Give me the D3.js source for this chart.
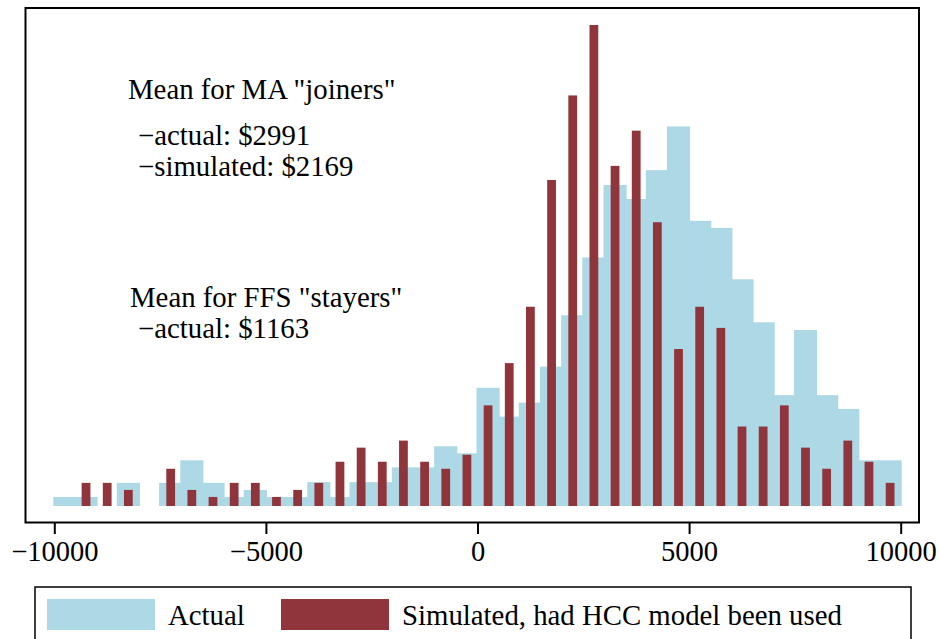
<!DOCTYPE html>
<html><head><meta charset="utf-8">
<script src="https://cdn.jsdelivr.net/npm/d3@7"></script>
<style>body{margin:0;background:#fff}svg{display:block}</style>
</head><body>
<svg id="c" width="940" height="639"></svg>
<script>
// Bin centers (500-wide bins from -10000 to 10000)
const binCenters = [-9750,-9250,-8750,-8250,-7750,-7250,-6750,-6250,-5750,-5250,
  -4750,-4250,-3750,-3250,-2750,-2250,-1750,-1250,-750,-250,
  250,750,1250,1750,2250,2750,3250,3750,4250,4750,
  5250,5750,6250,6750,7250,7750,8250,8750,9250,9750];
const binWidth = 500;
// Actual (light blue histogram)
const actual = [1,1,0,3,0,3,6.2,3,1,2,
  1,1,3.1,1,3.1,3.1,5.2,5.2,8.2,7.2,
  16.5,12.4,14.4,19.5,26.8,35.0,45.3,43.3,47.4,53.6,
  40.2,39.2,31.9,25.8,15.45,24.7,15.45,13.5,6.2,6.2];
// Simulated, had HCC model been used (red bars)
const simulated = [0,3,3,2,0,5,2,1,3,3,
  1,2,3,6,8,6,9,6,5,7,
  14,20,28,46,58,68,48,53,40,22,
  28,25,11,11,14,8,5,9,6,3];
const simBarWidth = 160;
const xTicks = [-10000,-5000,0,5000,10000];
const noteLines = [
  {text:'Mean for MA "joiners"', x:128, y:99},
  {text:'\u2212actual: $2991', x:138, y:145},
  {text:'\u2212simulated: $2169', x:138, y:176},
  {text:'Mean for FFS "stayers"', x:130, y:307},
  {text:'\u2212actual: $1163', x:138, y:338}
];
const legendLabels = ["Actual", "Simulated, had HCC model been used"];
const colors = {actual:"#ADD8E6", simulated:"#90353B"};
const FONT = '"Liberation Serif","Times New Roman",Times,serif';

const svg = d3.select("#c");
const x = d3.scaleLinear().domain([-10000,10000]).range([54.3,900.7]);
const y = d3.scaleLinear().domain([0,68]).range([505,26]);

const data = binCenters.map((c,i)=>({c, a:actual[i], s:simulated[i]}));

// actual histogram
svg.append("g").selectAll("rect").data(data.filter(d=>d.a>0)).join("rect")
  .attr("x", d=>x(d.c-binWidth/2))
  .attr("width", d=>x(d.c+binWidth/2)-x(d.c-binWidth/2))
  .attr("y", d=>y(d.a))
  .attr("height", d=>y(0)-y(d.a))
  .attr("fill", colors.actual)
  .attr("stroke", colors.actual).attr("stroke-width",2);

// simulated bars
svg.append("g").selectAll("rect").data(data.filter(d=>d.s>0)).join("rect")
  .attr("x", d=>x(d.c-simBarWidth/2))
  .attr("width", d=>x(d.c+simBarWidth/2)-x(d.c-simBarWidth/2))
  .attr("y", d=>y(d.s))
  .attr("height", d=>y(0)-y(d.s))
  .attr("fill", colors.simulated)
  .attr("stroke", colors.simulated).attr("stroke-width",2);

// plot frame
svg.append("rect").attr("x",25.5).attr("y",8).attr("width",919-25.5).attr("height",522.5-8)
  .attr("fill","none").attr("stroke","#000").attr("stroke-width",2);

// x axis
const ax = svg.append("g").attr("transform","translate(0,523)")
  .call(d3.axisBottom(x).tickValues(xTicks).tickSize(11).tickPadding(7).tickFormat(d3.format("d")));
ax.select(".domain").remove();
ax.selectAll(".tick line").attr("stroke","#000").attr("stroke-width",2);
ax.selectAll(".tick text").attr("font-family",FONT).attr("font-size",28.5).attr("fill","#000");

// annotations
svg.append("g").selectAll("text").data(noteLines).join("text")
  .attr("x",d=>d.x).attr("y",d=>d.y).text(d=>d.text)
  .attr("font-family",FONT).attr("font-size",28.8).attr("fill","#000");

// legend
const lg = svg.append("g");
lg.append("rect").attr("x",35).attr("y",587).attr("width",911-35).attr("height",80)
  .attr("fill","#fff").attr("stroke","#000").attr("stroke-width",1.5);
const legItems = [
  {label:legendLabels[0], color:colors.actual, sx:47, tx:168},
  {label:legendLabels[1], color:colors.simulated, sx:281, tx:402}
];
legItems.forEach(it=>{
  lg.append("rect").attr("x",it.sx).attr("y",599).attr("width",108).attr("height",31).attr("fill",it.color);
  lg.append("text").attr("x",it.tx).attr("y",625).text(it.label)
    .attr("font-family",FONT).attr("font-size",28.8).attr("fill","#000");
});
</script>
</body></html>
